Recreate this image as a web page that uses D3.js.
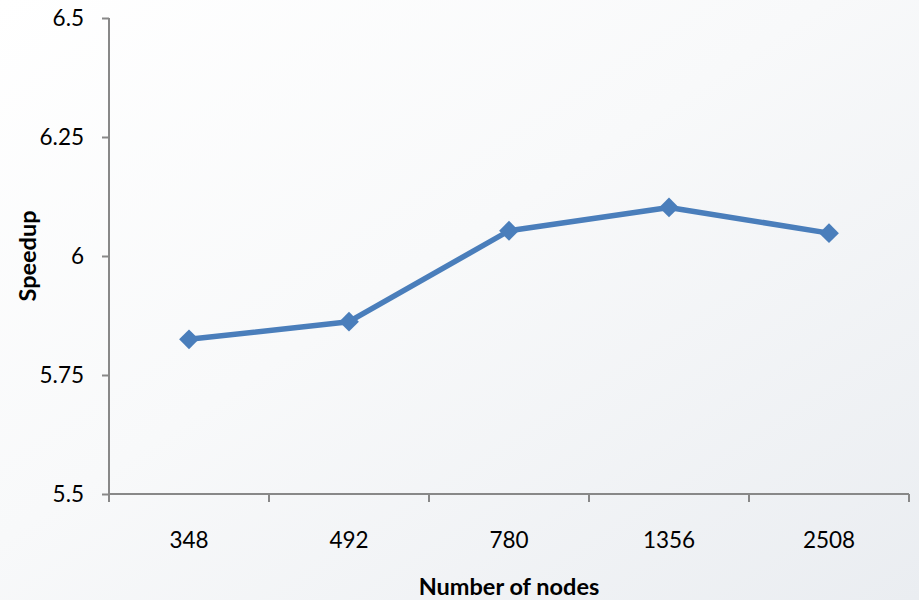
<!DOCTYPE html>
<html>
<head>
<meta charset="utf-8">
<script src="https://cdn.jsdelivr.net/npm/d3@7"></script>
<style>
  html, body { margin: 0; padding: 0; background: #fff; }
  svg { display: block; }
  text { font-family: Lato, "Open Sans", "Liberation Sans", sans-serif; fill: #000; }
</style>
</head>
<body>
<svg id="chart" width="919" height="600"></svg>
<script>
// Speedup measured for each network size
const nodes = ["348", "492", "780", "1356", "2508"];
const speedup = [5.825, 5.862, 6.053, 6.102, 6.048];
const yTicks = [5.5, 5.75, 6, 6.25, 6.5];

const W = 919, H = 600;
const margin = { left: 109, right: 10, top: 18, bottom: 106 };

const svg = d3.select("#chart");

// soft diagonal background wash
const defs = svg.append("defs");
const grad = defs.append("linearGradient")
  .attr("id", "bg").attr("x1", "0").attr("y1", "0").attr("x2", "1").attr("y2", "1");
grad.append("stop").attr("offset", "0%").attr("stop-color", "#ffffff");
grad.append("stop").attr("offset", "45%").attr("stop-color", "#f8f9fa");
grad.append("stop").attr("offset", "100%").attr("stop-color", "#eaedf1");
svg.append("rect").attr("width", W).attr("height", H).attr("fill", "url(#bg)");

const x = d3.scaleBand().domain(nodes).range([margin.left, W - margin.right]);
const y = d3.scaleLinear().domain([5.5, 6.5]).range([H - margin.bottom, margin.top]);

const axisColor = "#888888";

// y axis
const yAxis = svg.append("g")
  .attr("transform", `translate(${margin.left},0)`)
  .call(d3.axisLeft(y).tickValues(yTicks).tickSize(7).tickPadding(18)
    .tickFormat(d => String(d)));
yAxis.select(".domain").attr("stroke", axisColor).attr("stroke-width", 2)
  .attr("d", `M0,${y(6.5)}V${y(5.5)}`);
yAxis.selectAll(".tick line").attr("stroke", axisColor).attr("stroke-width", 2);
yAxis.selectAll(".tick text").attr("font-size", 22.5).style("font-family", "Lato, 'Open Sans', sans-serif");

// x axis: ticks at category boundaries, labels at category centres
const xAxisG = svg.append("g").attr("transform", `translate(0,${y(5.5)})`);
xAxisG.append("line")
  .attr("x1", x.range()[0]).attr("x2", x.range()[1])
  .attr("stroke", axisColor).attr("stroke-width", 2);
const bounds = nodes.map(n => x(n)).concat([x.range()[1]]);
xAxisG.selectAll("line.tk").data(bounds).enter().append("line")
  .attr("class", "tk")
  .attr("x1", d => d).attr("x2", d => d).attr("y1", 0).attr("y2", 8)
  .attr("stroke", axisColor).attr("stroke-width", 2);
xAxisG.selectAll("text.lbl").data(nodes).enter().append("text")
  .attr("class", "lbl")
  .attr("x", d => x(d) + x.bandwidth() / 2)
  .attr("y", 54)
  .attr("text-anchor", "middle")
  .attr("font-size", 22.5)
  .text(d => d);

// axis titles
svg.append("text")
  .attr("x", x.range()[0] + (x.range()[1] - x.range()[0]) / 2)
  .attr("y", 595)
  .attr("text-anchor", "middle")
  .attr("font-size", 23.5).attr("font-weight", "bold")
  .text("Number of nodes");
svg.append("text")
  .attr("transform", `translate(36,${y(6)}) rotate(-90)`)
  .attr("text-anchor", "middle")
  .attr("font-size", 23.5).attr("font-weight", "bold")
  .text("Speedup");

// series line and diamond markers
const color = "#4a7ebb";
const pts = nodes.map((n, i) => [x(n) + x.bandwidth() / 2, y(speedup[i])]);
svg.append("path")
  .attr("d", d3.line()(pts))
  .attr("fill", "none").attr("stroke", color)
  .attr("stroke-width", 5.5).attr("stroke-linejoin", "round");
svg.selectAll("path.mk").data(pts).enter().append("path")
  .attr("class", "mk")
  .attr("d", d3.symbol().type(d3.symbolDiamond2).size(250))
  .attr("transform", d => `translate(${d[0]},${d[1]})`)
  .attr("fill", color);
</script>
</body>
</html>
